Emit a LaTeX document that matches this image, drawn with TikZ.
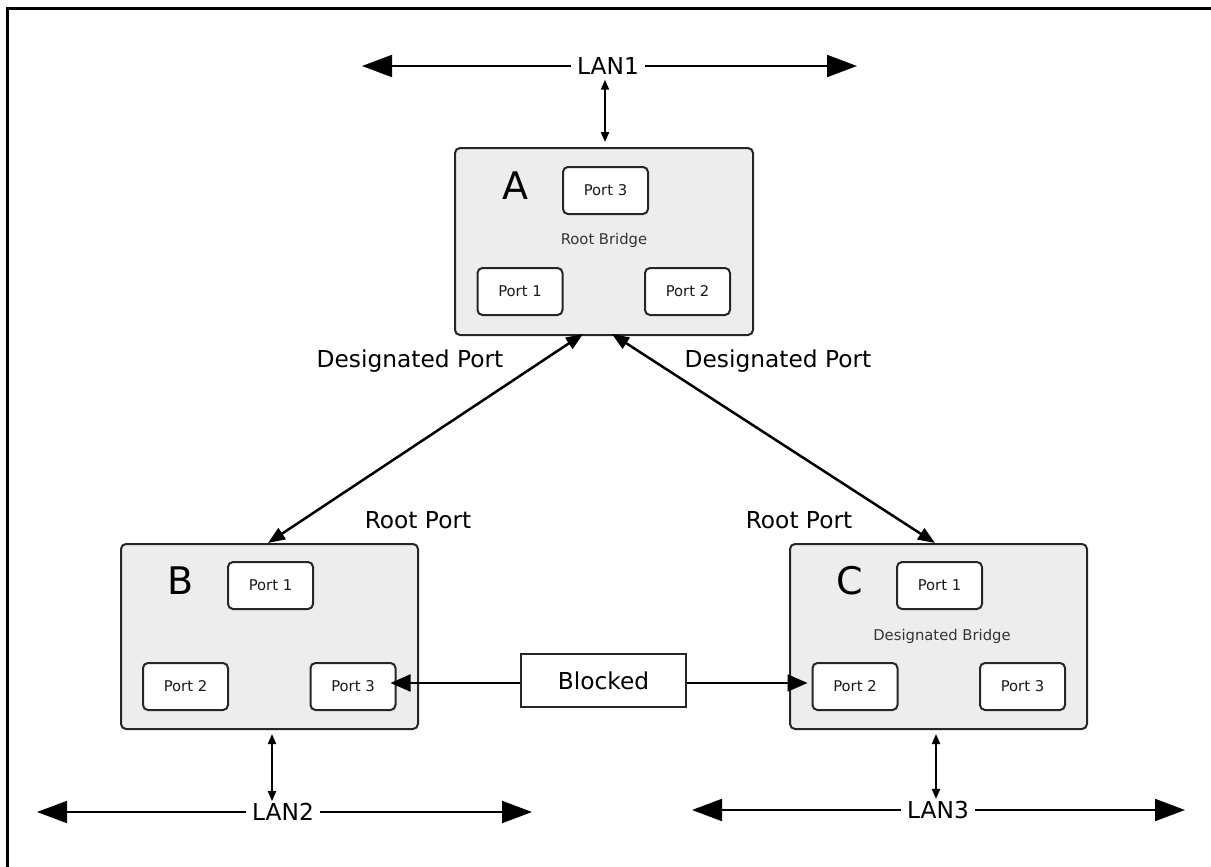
\documentclass[tikz,border=0pt]{standalone}
\usepackage{fontspec}
\setmainfont{DejaVu Sans}
\usetikzlibrary{arrows.meta}
\tikzset{
  bridge/.style={draw=black!85, line width=2pt, fill=black!7, rounded corners=5pt, inner sep=0pt},
  portbox/.style={draw=black!85, line width=2pt, fill=white, rounded corners=5pt, inner sep=0pt,
    minimum width=85pt, minimum height=47pt, font=\fontsize{14.8}{16}\selectfont, text=black!90},
  lbl/.style={font=\fontsize{23.3}{26}\selectfont, inner sep=0pt},
  lanlbl/.style={font=\fontsize{23.3}{26}\selectfont, inner xsep=6pt, inner ysep=2pt},
  letter/.style={font=\fontsize{38}{40}\selectfont, inner sep=0pt},
  brtext/.style={font=\fontsize{14.8}{16}\selectfont, text=black!80, inner sep=0pt},
  lanline/.style={line width=2pt, -{Triangle[length=30pt,width=22pt]}},
  smallarr/.style={line width=2pt, {Triangle[length=10pt,width=8pt]}-{Triangle[length=10pt,width=8pt]}},
  diagarr/.style={line width=2.5pt, {Triangle[length=17pt,width=13pt]}-{Triangle[length=17pt,width=13pt]}},
  blockarr/.style={line width=2pt, -{Triangle[length=20pt,width=17pt]}},
}
\begin{document}
\begin{tikzpicture}[x=1pt,y=-1pt]
\useasboundingbox (0,0) rectangle (1211,867);
% frame
\draw[line width=3pt] (7.5,867) -- (7.5,9) -- (1211,9);

% bridges
\node[bridge, minimum width=298pt, minimum height=187pt] (A) at (604,241.5) {};
\node[bridge, minimum width=297pt, minimum height=185pt] (B) at (269.5,636.5) {};
\node[bridge, minimum width=297pt, minimum height=185pt] (C) at (938.5,636.5) {};

% A contents
\node[letter] (Aname) at (515,186) {A};
\node[portbox] (Ap3) at (605.5,190.5) {Port 3};
\node[brtext] (Arb) at (604,240) {Root Bridge};
\node[portbox] (Ap1) at (520,291.5) {Port 1};
\node[portbox] (Ap2) at (687.5,291.5) {Port 2};

% B contents
\node[letter] (Bname) at (181,581) {B};
\node[portbox] (Bp1) at (270.5,585.5) {Port 1};
\node[portbox] (Bp2) at (185.5,686.5) {Port 2};
\node[portbox] (Bp3) at (353,686.5) {Port 3};

% C contents
\node[letter] (Cname) at (850,581) {C};
\node[portbox] (Cp1) at (939.5,585.5) {Port 1};
\node[brtext] (Cdb) at (942,636) {Designated Bridge};
\node[portbox] (Cp2) at (855,686.5) {Port 2};
\node[portbox] (Cp3) at (1022.5,686.5) {Port 3};

% labels
\node[lbl] (dpl) at (410,361) {Designated Port};
\node[lbl] (dpr) at (778,361) {Designated Port};
\node[lbl] (rpl) at (418,520) {Root Port};
\node[lbl] (rpr) at (799,520) {Root Port};

% LANs
\node[lanlbl] (L1) at (608,66) {LAN1};
\coordinate (L1a) at (362,66);
\coordinate (L1b) at (857,66);
\draw[lanline] (L1.west) -- (L1a);
\draw[lanline] (L1.east) -- (L1b);

\node[lanlbl] (L2) at (283,812) {LAN2};
\coordinate (L2a) at (37,812);
\coordinate (L2b) at (532,812);
\draw[lanline] (L2.west) -- (L2a);
\draw[lanline] (L2.east) -- (L2b);

\node[lanlbl] (L3) at (938,810) {LAN3};
\coordinate (L3a) at (692,810);
\coordinate (L3b) at (1185,810);
\draw[lanline] (L3.west) -- (L3a);
\draw[lanline] (L3.east) -- (L3b);

% vertical small arrows
\draw[smallarr, shorten <=3pt, shorten >=5pt] ([xshift=-3pt]L1.south) -- ([xshift=1pt]A.north);
\draw[smallarr, shorten <=4pt, shorten >=3pt] ([xshift=2.5pt]B.south) -- ([xshift=2.5pt,yshift=-3pt]B.south |- L2.north);
\draw[smallarr, shorten <=4pt, shorten >=3pt] ([xshift=-2.5pt]C.south) -- ([xshift=-2.5pt,yshift=-3pt]C.south |- L3.north);

% diagonal arrows
\draw[diagarr] ([xshift=-21pt,yshift=2pt]A.south) -- ([xshift=-1.5pt]B.north);
\draw[diagarr] ([xshift=8pt,yshift=2pt]A.south) -- ([xshift=-3.5pt]C.north);

% blocked
\node[draw=black!85, line width=2pt, fill=white, minimum width=165pt, minimum height=53pt, lbl] (blk) at (603.5,680.5) {Blocked};
\draw[blockarr, shorten >=-6pt] ([yshift=-2.5pt]blk.west) -- ([yshift=-2.5pt]blk.west -| Bp3.east);
\draw[blockarr, shorten >=4pt] ([yshift=-2.5pt]blk.east) -- ([yshift=-2.5pt]blk.east -| Cp2.west);
\end{tikzpicture}
\end{document}
